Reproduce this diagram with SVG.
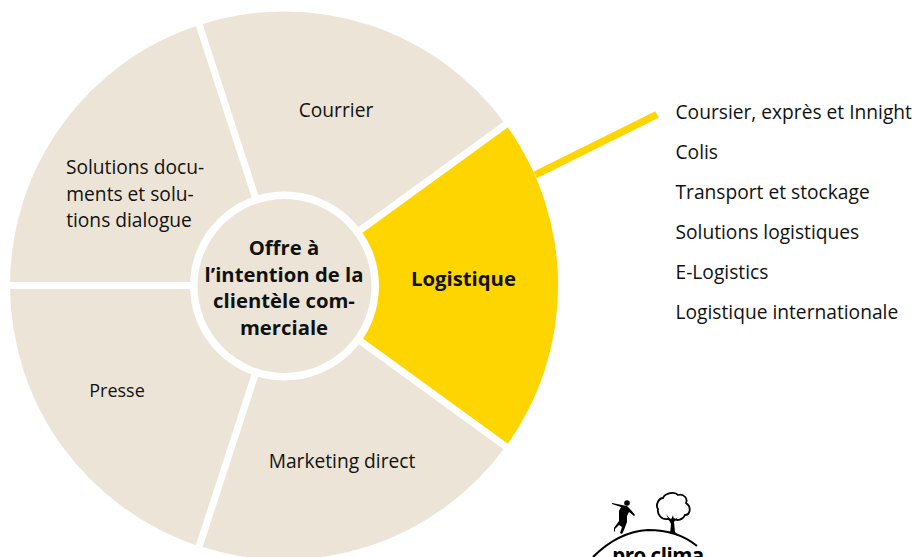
<svg xmlns="http://www.w3.org/2000/svg" width="916" height="557" viewBox="0 0 916 557">
<style>
text{font-family:"Open Sans","Noto Sans","Liberation Sans",sans-serif;font-size:19.200px;fill:#111;text-anchor:middle}
.b{font-weight:700;font-size:20.300px}
.l{text-anchor:start}
.w{fill:#ece5d7}
.y{fill:#ffd500}
.s{stroke:#fff;stroke-width:7;fill:none}
</style>
<rect width="916" height="557" fill="#fff"/>
<g id="courrier"><path class="w" d="M284 285.500L199.300 24.900A274 274 0 0 1 505.700 124.400Z"/><text x="336" y="117">Courrier</text></g>
<g id="logistique"><path class="y" d="M284 285.500L505.700 124.400A274 274 0 0 1 505.700 446.600Z"/><text class="b" x="463.500" y="286">Logistique</text></g>
<g id="marketing"><path class="w" d="M284 285.500L505.700 446.600A274 274 0 0 1 199.300 546.100Z"/><text x="342" y="468">Marketing direct</text></g>
<g id="presse"><path class="w" d="M284 285.500L199.300 546.100A274 274 0 0 1 10 285.500Z"/><text x="117" y="397" style="font-size:18px">Presse</text></g>
<g id="solutions"><path class="w" d="M284 285.500L10 285.500A274 274 0 0 1 199.300 24.900Z"/><text x="135" y="174">Solutions docu-</text><text x="130" y="200.500">ments et solu-</text><text x="129" y="226.500">tions dialogue</text></g>
<g id="spokes"><path class="s" d="M284 285.500L197.600 19.800M284 285.500L510 121.300M284 285.500L510 449.700M284 285.500L197.600 551.200M284 285.500L4 285.500"/></g>
<g id="centre"><circle cx="284.500" cy="286" r="94.500" fill="#fff"/><circle class="w" cx="284.500" cy="286" r="87"/>
<text class="b" x="284" y="255">Offre à</text><text class="b" x="284" y="282">l’intention de la</text><text class="b" x="284" y="308">clientèle com-</text><text class="b" x="284" y="335">merciale</text></g>
<g id="connectors"><path d="M535 175L657 114.500" stroke="#ffd500" stroke-width="7.500" fill="none"/></g>
<g id="liste">
<text class="l" x="675.500" y="118.500">Coursier, exprès et Innight</text>
<text class="l" x="675.500" y="158.500">Colis</text>
<text class="l" x="675.500" y="198.500">Transport et stockage</text>
<text class="l" x="675.500" y="238.500">Solutions logistiques</text>
<text class="l" x="675.500" y="278.500">E-Logistics</text>
<text class="l" x="675.500" y="318.500">Logistique internationale</text>
</g>
<g id="logo">
<path d="M593 557C610 540 630 531 648 530C668 530 685 536 697 546" fill="none" stroke="#000" stroke-width="2.200"/>
<circle cx="627" cy="503" r="2.800" fill="#000"/>
<path d="M612 503L622 505L627 506L631 510L635 515L634 516L629 512L627 516L627 522L624 530L622 534L620 533L622 527L619 525L615 529L615 532L614 531L614 528L619 521L619 511L621 507L612 504Z" fill="#000"/>
<path d="M668 519C661 520 657 514 658 509C655 505 659 498 663 498C665 493 675 491 678 495C684 493 688 499 686 503C692 507 690 515 685 515C683 520 677 521 674 519C672 520 670 520 668 519Z" fill="#fff" stroke="#000" stroke-width="1.800"/>
<path d="M666 514L671 520L673 515L674 520L678 517L674 522L675 532L677 534L670 534L671 524Z" fill="#000"/>
<text x="658" y="563" class="b" style="font-size:20.500px;letter-spacing:-.5px;fill:#000">pro clima</text>
</g>
</svg>
